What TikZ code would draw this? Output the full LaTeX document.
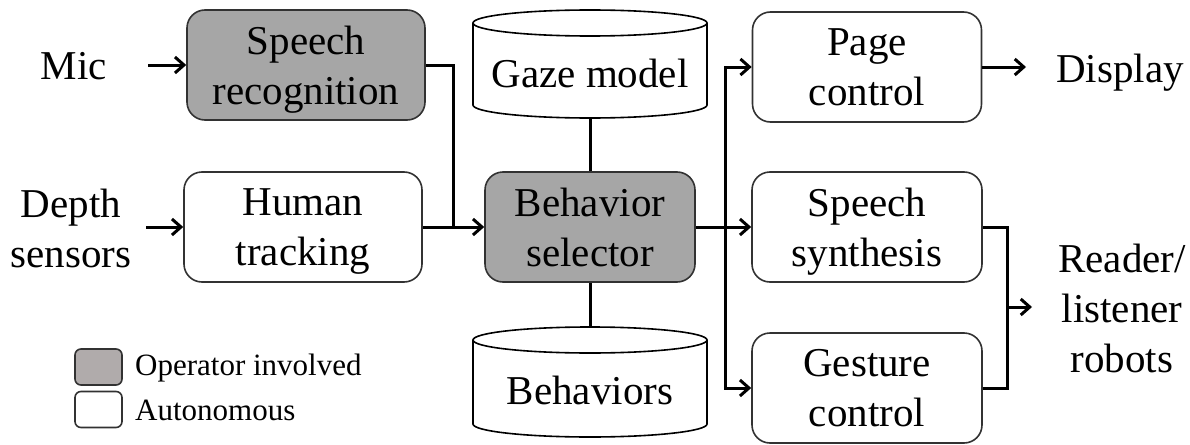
\documentclass[tikz,border=0pt]{standalone}
\usepackage{fontspec}
\setmainfont{Liberation Serif}
\usetikzlibrary{arrows.meta}
\definecolor{boxgray}{RGB}{166,166,166}
\definecolor{leggray}{RGB}{176,171,171}
\definecolor{edgecol}{RGB}{50,50,50}
\begin{document}
\begin{tikzpicture}[x=1pt,y=-1pt,
  every node/.style={font=\fontsize{41}{50}\selectfont, inner sep=0pt},
  box/.style={draw=edgecol, line width=1.6pt, rounded corners=18pt, align=center, minimum height=110pt, text depth=0pt},
  opbox/.style={box, fill=boxgray},
  txt/.style={align=center},
  conn/.style={line width=3pt, draw=black},
  arr/.style={conn, -{Straight Barb[length=9pt,width=16pt]}},
  cyl/.style={draw=black, line width=1.6pt, fill=white},
  legbox/.style={draw=edgecol, line width=1.6pt, rounded corners=6pt, minimum width=47pt, minimum height=36pt},
  legtext/.style={font=\fontsize{31}{37}\selectfont, anchor=west, text depth=0pt},
]
\useasboundingbox (0,0) rectangle (1190,444);

% cylinders
\path[cyl] (473,23) -- (473,105) arc[start angle=180,end angle=360,x radius=117pt,y radius=13pt] -- (707,23) arc[start angle=0,end angle=180,x radius=117pt,y radius=13pt] -- cycle;
\draw[line width=1.6pt] (473,23) arc[start angle=180,end angle=360,x radius=117pt,y radius=13pt];
\node[minimum width=234pt, minimum height=108pt] (gaze) at (590,64) {};
\node[txt, text depth=0pt] (gazetext) at (590,73) {Gaze model};

\path[cyl] (473,340) -- (473,424) arc[start angle=180,end angle=360,x radius=117pt,y radius=13pt] -- (707,340) arc[start angle=0,end angle=180,x radius=117pt,y radius=13pt] -- cycle;
\draw[line width=1.6pt] (473,340) arc[start angle=180,end angle=360,x radius=117pt,y radius=13pt];
\node[minimum width=234pt, minimum height=110pt] (beh) at (590,382) {};
\node[txt, text depth=0pt] (behtext) at (590,390) {Behaviors};

% boxes
\node[opbox, minimum width=238pt] (sr) at (306,65) {Speech\\recognition};
\node[box, minimum width=238pt] (ht) at (303,227) {Human\\tracking};
\node[opbox, minimum width=210pt] (sel) at (590,227) {Behavior\\selector};
\node[box, minimum width=229pt] (page) at (867,67) {Page\\control};
\node[box, minimum width=230pt] (syn) at (867,227) {Speech\\synthesis};
\node[box, minimum width=230pt] (gest) at (867,388) {Gesture\\control};

% outer labels
\node[txt, text depth=0pt] (mic) at (74,66) {Mic};
\node[txt, text depth=0pt] (depth) at (71,228) {Depth\\sensors};
\node[txt, text depth=0pt] (disp) at (1120,68) {Display};
\node[txt, text depth=0pt] (reader) at (1122,308) {Reader/\\listener\\robots};

% connectors
\coordinate (micout) at (148,65);
\coordinate (depout) at (146,227);
\coordinate (j1) at (453,227);
\coordinate (j2) at (725,227);
\coordinate (dispin) at (1026,67);
\coordinate (j3) at (1007,307);
\coordinate (rout) at (1032,307);

\draw[arr] (micout) -- (sr.west);
\draw[arr] (depout) -- (ht.west);
\draw[conn] (sr.east) -| (j1);
\draw[arr] (ht.east) -- (sel.west);
\draw[arr] (sel.east) -- (syn.west);
\draw[arr] (j2) |- (page.west);
\draw[arr] (j2) |- (gest.west);
\draw[conn] (gaze.south) -- (sel.north);
\draw[conn] (sel.south) -- (beh.north);
\draw[arr] (page.east) -- (dispin);
\draw[conn] (syn.east) -| (j3) |- (gest.east);
\draw[arr] (j3) -- (rout);

% legend
\node[legbox, fill=leggray] (legop) at (98.5,367) {};
\node[legbox, fill=white] (legau) at (98.5,409.5) {};
\node[legtext] (legoptext) at (135,364.5) {Operator involved};
\node[legtext] (legautext) at (135,410) {Autonomous};
\end{tikzpicture}
\end{document}
